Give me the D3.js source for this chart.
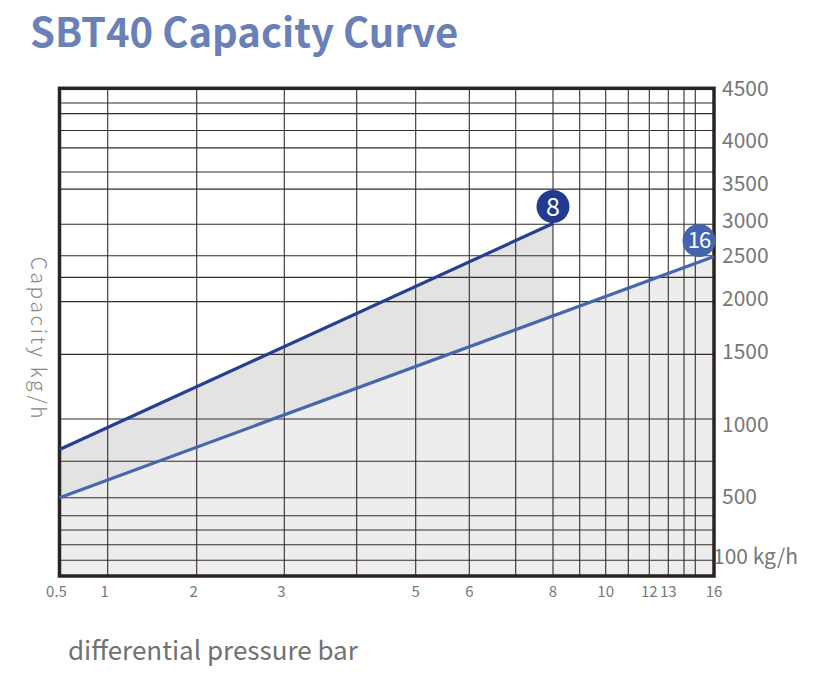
<!DOCTYPE html>
<html>
<head>
<meta charset="utf-8">
<script src="https://cdn.jsdelivr.net/npm/d3@7"></script>
<style>
  body { margin: 0; background: #fff; }
  svg { display: block; }
</style>
</head>
<body>
<script>
// pressure (bar) and capacity (kg/h)
const xGridValues = [0.5, 1, 2, 3, 4, 5, 6, 7, 8, 9, 10, 11, 12, 13, 14, 15, 16];
const xTickLabels = [0.5, 1, 2, 3, 5, 6, 8, 10, 12, 13, 16];
const yLabelValues = [0, 100, 500, 1000, 1500, 2000, 2500, 3000, 3500, 4000, 4500];
const yTickLabels = [4500, 4000, 3500, 3000, 2500, 2000, 1500, 1000, 500, 100];
const yGridValues = [4360, 4260, 4100, 3920, 3640, 3430, 2950, 2500, 2250, 1975,
                     1484, 1041, 748, 495, 375, 280, 182, 83];

const seriesNames = ["8", "16"];
const seriesPressure = [[0.5, 8], [0.5, 16]];
const seriesCapacity = [[830, 2960], [495, 2490]];

// the printed grid is hand spaced, so the scales are piecewise
const xRange = [59.5, 107.7, 196.7, 284.3, 356.7, 415.7, 469.3, 515.7, 553,
                579.7, 605.7, 628.3, 649.3, 668.3, 684, 695.3, 714];
const yRange = [576, 557, 497, 425, 352, 299, 255.7, 220.7, 184, 141, 88.3];

const W = 819, H = 690;
const font = "'Noto Sans CJK SC', 'Noto Sans', sans-serif";

const x = d3.scaleLinear().domain(xGridValues).range(xRange);
const y = d3.scaleLinear().domain(yLabelValues).range(yRange);

const svg = d3.select("body").append("svg")
  .attr("width", W)
  .attr("height", H);

// title
svg.append("text")
  .attr("x", 30).attr("y", 47)
  .attr("font-family", font)
  .attr("font-weight", "bold")
  .attr("font-size", 40)
  .attr("fill", "#6a80b8")
  .text("SBT40 Capacity Curve");

const series = seriesNames.map((name, i) => ({
  name: name,
  pts: seriesPressure[i].map((p, j) => ({ p: p, c: seriesCapacity[i][j] }))
}));

const area = d3.area()
  .x(d => x(d.p))
  .y0(y(0))
  .y1(d => y(d.c));

const line = d3.line()
  .x(d => x(d.p))
  .y(d => y(d.c));

const fills = ["#e3e3e3", "#ededed"];
const strokes = ["#263f93", "#4767ad"];

svg.selectAll(".area")
  .data(series)
  .join("path")
  .attr("class", "area")
  .attr("d", d => area(d.pts))
  .attr("fill", (d, i) => fills[i]);

// grid
const gridColor = "#352d2b";
svg.append("g")
  .selectAll("line")
  .data(xGridValues.slice(1, -1))
  .join("line")
  .attr("x1", d => x(d)).attr("x2", d => x(d))
  .attr("y1", y(4500)).attr("y2", y(0))
  .attr("stroke", gridColor)
  .attr("stroke-width", 1.1);

svg.append("g")
  .selectAll("line")
  .data(yGridValues)
  .join("line")
  .attr("x1", x(0.5)).attr("x2", x(16))
  .attr("y1", d => y(d)).attr("y2", d => y(d))
  .attr("stroke", gridColor)
  .attr("stroke-width", 1.1);

svg.append("rect")
  .attr("x", x(0.5)).attr("y", y(4500))
  .attr("width", x(16) - x(0.5))
  .attr("height", y(0) - y(4500))
  .attr("fill", "none")
  .attr("stroke", "#2b2321")
  .attr("stroke-width", 3.5);

// curves
svg.selectAll(".curve")
  .data(series)
  .join("path")
  .attr("class", "curve")
  .attr("d", d => line(d.pts))
  .attr("fill", "none")
  .attr("stroke", (d, i) => strokes[i])
  .attr("stroke-width", 3.2);

// end badges
const badgeOffset = [[0, -17], [-15, -16]];
const badges = svg.selectAll(".badge")
  .data(series)
  .join("g")
  .attr("class", "badge")
  .attr("transform", (d, i) => {
    const last = d.pts[d.pts.length - 1];
    return `translate(${x(last.p) + badgeOffset[i][0]},${y(last.c) + badgeOffset[i][1]})`;
  });

badges.append("circle")
  .attr("r", 16.5)
  .attr("fill", (d, i) => i === 0 ? "#233b8e" : "#4465ad");

badges.append("text")
  .attr("text-anchor", "middle")
  .attr("dy", "0.36em")
  .attr("font-family", font)
  .attr("font-size", (d, i) => i === 0 ? 25 : 22)
  .attr("letter-spacing", (d, i) => i === 0 ? 0 : -1)
  .attr("fill", "#fff")
  .text(d => d.name);

// x tick labels
svg.append("g")
  .selectAll("text")
  .data(xTickLabels)
  .join("text")
  .attr("x", d => x(d) - (d < 5 ? 3 : 0))
  .attr("y", 597)
  .attr("text-anchor", "middle")
  .attr("font-family", font)
  .attr("font-size", 15)
  .attr("fill", "#777")
  .text(d => d);

// y tick labels (right side)
svg.append("g")
  .selectAll("text")
  .data(yTickLabels)
  .join("text")
  .attr("x", d => d === 100 ? 713 : 722)
  .attr("y", d => y(d))
  .attr("dy", "0.35em")
  .attr("font-family", font)
  .attr("font-size", 21)
  .attr("fill", "#777")
  .text(d => d === 100 ? "100 kg/h" : d);

// axis titles
svg.append("text")
  .attr("transform", "translate(31,339) rotate(90)")
  .attr("text-anchor", "middle")
  .attr("font-family", font)
  .attr("font-weight", 300)
  .attr("font-size", 21)
  .attr("letter-spacing", 2.6)
  .attr("fill", "#888")
  .text("Capacity  kg/h");

svg.append("text")
  .attr("x", 68).attr("y", 660)
  .attr("font-family", font)
  .attr("font-size", 26)
  .attr("fill", "#717171")
  .text("differential pressure bar");
</script>
</body>
</html>
